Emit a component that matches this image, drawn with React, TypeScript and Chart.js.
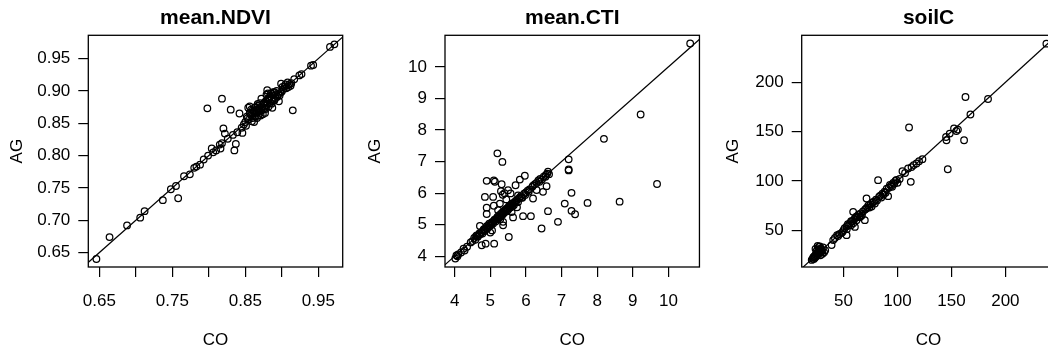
import React, { useEffect, useRef } from 'react';
import { Chart, registerables } from 'chart.js';

Chart.register(...registerables);

// ---------------- data ----------------
const panelTitles = ['mean.NDVI', 'mean.CTI', 'soilC'];
const xAxisTitle = 'CO';
const yAxisTitle = 'AG';

// [CO, AG]
const ndviPoints: [number, number][] = [
  [0.646, 0.640], [0.664, 0.674], [0.688, 0.692], [0.706, 0.704], [0.712, 0.714], [0.737, 0.731],
  [0.748, 0.748], [0.755, 0.753], [0.758, 0.734], [0.766, 0.768], [0.774, 0.771], [0.780, 0.781],
  [0.783, 0.783], [0.788, 0.786], [0.793, 0.794], [0.799, 0.800], [0.798, 0.873], [0.804, 0.811],
  [0.806, 0.805], [0.810, 0.808], [0.815, 0.817], [0.816, 0.811], [0.818, 0.819], [0.818, 0.888],
  [0.820, 0.842], [0.822, 0.834], [0.826, 0.826], [0.830, 0.871], [0.833, 0.832], [0.835, 0.808],
  [0.837, 0.818], [0.839, 0.836], [0.842, 0.865], [0.845, 0.843], [0.846, 0.835], [0.848, 0.848],
  [0.850, 0.852], [0.851, 0.846], [0.852, 0.860], [0.854, 0.874], [0.855, 0.856], [0.856, 0.876],
  [0.857, 0.866], [0.858, 0.862], [0.859, 0.853], [0.860, 0.870], [0.861, 0.865], [0.862, 0.852],
  [0.863, 0.874], [0.864, 0.860], [0.865, 0.870], [0.866, 0.866], [0.867, 0.877], [0.868, 0.862],
  [0.869, 0.872], [0.870, 0.868], [0.871, 0.862], [0.872, 0.888], [0.873, 0.876], [0.874, 0.871],
  [0.875, 0.880], [0.876, 0.873], [0.877, 0.866], [0.878, 0.884], [0.879, 0.878], [0.880, 0.901],
  [0.881, 0.886], [0.882, 0.876], [0.883, 0.890], [0.884, 0.881], [0.885, 0.896], [0.886, 0.887],
  [0.887, 0.874], [0.888, 0.893], [0.889, 0.885], [0.890, 0.898], [0.891, 0.889], [0.892, 0.895],
  [0.894, 0.891], [0.896, 0.884], [0.897, 0.893], [0.899, 0.911], [0.900, 0.899], [0.902, 0.903],
  [0.904, 0.907], [0.906, 0.904], [0.908, 0.913], [0.910, 0.910], [0.912, 0.908], [0.913, 0.912],
  [0.915, 0.870], [0.917, 0.918], [0.924, 0.924], [0.927, 0.926], [0.940, 0.939], [0.943, 0.940],
  [0.966, 0.968], [0.972, 0.972],
  [0.853, 0.858], [0.856, 0.866], [0.858, 0.871], [0.860, 0.858], [0.862, 0.868], [0.864, 0.875],
  [0.866, 0.858], [0.868, 0.870], [0.870, 0.875], [0.872, 0.870], [0.874, 0.864], [0.876, 0.882],
  [0.878, 0.872], [0.880, 0.880], [0.882, 0.888], [0.884, 0.892], [0.886, 0.880], [0.888, 0.898],
  [0.890, 0.886], [0.893, 0.900], [0.895, 0.895], [0.898, 0.897], [0.901, 0.906], [0.905, 0.910],
  [0.909, 0.906], [0.867, 0.880], [0.879, 0.894], [0.881, 0.896], [0.870, 0.881], [0.863, 0.866],
];

const ctiPoints: [number, number][] = [
  [4.02, 3.93], [4.05, 4.03], [4.08, 4.00], [4.10, 4.06], [4.18, 4.12], [4.28, 4.18], [4.25, 4.24],
  [4.35, 4.30], [4.45, 4.44], [4.50, 4.48], [4.55, 4.58], [4.58, 4.52], [4.62, 4.66], [4.65, 4.62],
  [4.68, 4.67], [4.72, 4.70], [4.75, 4.76], [4.78, 4.72], [4.80, 4.82], [4.82, 4.86], [4.85, 4.80],
  [4.88, 4.90], [4.90, 4.95], [4.92, 4.88], [4.95, 4.98], [4.97, 5.03], [5.00, 4.97], [5.02, 5.05],
  [5.05, 5.08], [5.08, 5.04], [5.10, 5.12], [5.12, 5.16], [5.15, 5.10], [5.18, 5.20], [5.20, 5.25],
  [5.22, 5.18], [5.25, 5.30], [5.28, 5.24], [5.30, 5.34], [5.33, 5.38], [5.35, 5.32], [5.38, 5.42],
  [5.40, 5.45], [5.42, 5.40], [5.45, 5.50], [5.48, 5.52], [5.50, 5.47], [5.52, 5.58], [5.55, 5.60],
  [5.58, 5.55], [5.60, 5.65], [5.63, 5.68], [5.66, 5.62], [5.70, 5.74], [5.74, 5.78], [5.78, 5.72],
  [5.82, 5.86], [5.86, 5.90], [5.90, 5.85], [5.95, 5.98], [6.00, 6.02], [6.05, 6.08], [6.10, 6.12],
  [6.18, 6.20], [6.25, 6.28], [6.30, 6.32], [6.35, 6.40], [6.40, 6.45], [6.45, 6.43], [6.50, 6.52],
  [6.56, 6.58], [6.60, 6.62], [6.62, 6.68], [6.65, 6.60],
  [4.60, 4.64], [4.70, 4.73], [4.84, 4.84], [4.93, 4.92], [5.03, 5.00], [5.13, 5.14], [5.23, 5.22],
  [5.31, 5.28], [5.37, 5.36], [5.43, 5.46], [5.47, 5.43], [5.53, 5.52], [5.57, 5.62], [5.62, 5.60],
  [5.68, 5.70], [5.72, 5.70], [5.80, 5.82], [5.88, 5.86], [5.98, 5.94], [6.08, 6.04], [6.20, 6.24],
  [6.38, 6.36], [6.55, 6.52],
  [5.20, 7.26], [5.34, 6.99], [5.97, 6.55], [5.83, 6.43], [4.90, 6.39], [5.13, 6.36], [5.10, 6.40],
  [5.32, 6.28], [5.71, 6.25], [4.85, 5.88], [5.08, 5.88], [5.30, 6.06], [5.50, 6.09], [5.57, 5.99],
  [5.78, 5.93], [4.90, 5.54], [4.90, 5.34], [5.27, 5.67], [5.22, 5.46], [4.71, 4.96], [5.28, 5.17],
  [5.35, 5.95], [5.45, 5.80], [5.10, 5.60], [5.40, 6.00],
  [5.36, 4.98], [5.36, 5.09], [4.76, 4.35], [4.87, 4.40], [5.11, 4.40], [5.52, 4.61], [5.64, 5.23],
  [5.92, 5.27], [6.14, 5.27], [6.20, 5.83], [6.44, 4.88], [6.62, 5.43], [6.90, 5.09], [7.09, 5.67],
  [7.28, 6.01], [7.20, 6.75], [7.20, 6.72], [7.20, 7.07], [7.28, 5.44], [7.38, 5.33], [6.48, 6.04],
  [6.58, 6.22], [7.73, 5.69], [8.19, 7.72], [8.63, 5.73], [9.22, 8.49], [9.68, 6.29], [10.61, 10.74],
  [5.05, 4.82], [5.00, 4.75], [5.75, 5.55], [6.30, 6.10], [5.60, 5.40],
];

const soilPoints: [number, number][] = [
  [20.5, 19.8], [21.5, 21.0], [22.0, 22.5], [22.5, 20.8], [23.0, 23.5], [23.5, 22.0], [24.0, 25.0],
  [24.5, 23.2], [25.0, 26.5], [25.5, 24.5], [26.0, 28.0], [26.5, 25.5], [27.0, 30.5], [27.5, 27.0],
  [28.0, 33.5], [28.5, 29.0], [29.0, 31.5], [29.5, 28.0], [30.0, 30.0], [31.0, 32.5], [32.0, 27.5],
  [33.0, 29.5], [26.0, 34.0], [27.0, 33.0], [24.0, 31.0], [25.0, 29.0], [30.5, 26.0], [28.5, 24.5],
  [38.9, 34.8], [40.4, 39.9], [42, 42], [44, 45], [46, 46], [48, 47], [50, 50], [51, 52], [52.8, 44.9],
  [53, 54], [55, 55], [56, 57], [57, 55], [58, 59], [58.9, 68.6], [60, 61], [60.5, 53.3], [61, 63],
  [62, 60], [63, 64], [64, 66], [65, 63], [66, 67], [67, 65], [68, 69], [69.7, 60.1], [70, 71],
  [71.3, 82.1], [72, 73], [73, 75], [75, 76], [76, 74], [78, 79], [79, 77], [80, 81], [81, 80],
  [82, 100.7], [83, 84], [84, 85], [86, 87], [87, 86], [88, 89], [89, 88], [90, 92], [91.3, 84.5],
  [92, 93], [93, 96], [95, 94], [97, 97], [98, 100], [100, 98], [102, 102], [104.6, 109.8],
  [107, 108], [109.8, 112.5], [110.7, 154.1], [112.3, 99], [113, 114], [115, 116], [117.6, 117.6],
  [120, 120], [123.1, 122], [145, 144.5], [145.4, 141.2], [146.6, 111.8], [148.4, 148],
  [152.4, 153.1], [154.6, 150.6], [156, 152], [161.7, 141.2], [163, 185.1], [167.6, 167.3],
  [183.9, 183.1], [238, 239.2],
  [45, 44], [49, 48], [54, 56], [59, 57], [62, 64], [66, 64], [71, 72], [74, 73], [77, 78],
  [85, 83], [94, 95], [96, 98], [99, 101], [53, 51], [57, 59],
];

// axis ranges [min, max]
const ndviXRange = [0.6349, 0.9834];
const ndviYRange = [0.6277, 0.986];
const ctiXRange = [3.73, 10.87];
const ctiYRange = [3.66, 11.0];
const soilXRange = [11.2, 246.4];
const soilYRange = [12.6, 247.7];

// ticks and tick labels
const ndviXTicks = [0.65, 0.7, 0.75, 0.8, 0.85, 0.9, 0.95];
const ndviXTickLabels = ['0.65', '', '0.75', '', '0.85', '', '0.95'];
const ndviYTicks = [0.65, 0.7, 0.75, 0.8, 0.85, 0.9, 0.95];
const ndviYTickLabels = ['0.65', '0.70', '0.75', '0.80', '0.85', '0.90', '0.95'];
const ctiXTicks = [4, 5, 6, 7, 8, 9, 10];
const ctiXTickLabels = ['4', '5', '6', '7', '8', '9', '10'];
const ctiYTicks = [4, 5, 6, 7, 8, 9, 10];
const ctiYTickLabels = ['4', '5', '6', '7', '8', '9', '10'];
const soilXTicks = [50, 100, 150, 200];
const soilXTickLabels = ['50', '100', '150', '200'];
const soilYTicks = [50, 100, 150, 200];
const soilYTickLabels = ['50', '100', '150', '200'];

// ---------------- layout / style ----------------
const FONT = '"Liberation Sans", Arial, Helvetica, sans-serif';
const H = 354;
const PLOT_TOP = 35.3;
const PLOT_BOTTOM = 267;

type Spec = {
  title: string;
  points: [number, number][];
  xRange: number[];
  yRange: number[];
  xTicks: number[];
  xLabels: string[];
  yTicks: number[];
  yLabels: string[];
  left: number;
  width: number;
  plotLeft: number;
  plotRight: number;
};

const specs: Spec[] = [
  {
    title: panelTitles[0], points: ndviPoints, xRange: ndviXRange, yRange: ndviYRange,
    xTicks: ndviXTicks, xLabels: ndviXTickLabels, yTicks: ndviYTicks, yLabels: ndviYTickLabels,
    left: 0, width: 352, plotLeft: 88.3, plotRight: 342.7,
  },
  {
    title: panelTitles[1], points: ctiPoints, xRange: ctiXRange, yRange: ctiYRange,
    xTicks: ctiXTicks, xLabels: ctiXTickLabels, yTicks: ctiYTicks, yLabels: ctiYTickLabels,
    left: 358, width: 346, plotLeft: 445, plotRight: 699.5,
  },
  {
    title: panelTitles[2], points: soilPoints, xRange: soilXRange, yRange: soilYRange,
    xTicks: soilXTicks, xLabels: soilXTickLabels, yTicks: soilYTicks, yLabels: soilYTickLabels,
    left: 716, width: 344, plotLeft: 801.7, plotRight: 1056.3,
  },
];

const boxPlugin = {
  id: 'rbox',
  afterDatasetsDraw(chart: any) {
    const { ctx, chartArea } = chart;
    const { left, top, right, bottom } = chartArea;
    ctx.save();
    ctx.strokeStyle = '#000';
    ctx.lineWidth = 1.3;
    ctx.strokeRect(left, top, right - left, bottom - top);
    ctx.restore();
  },
};

function zeroPad(s: any) {
  s.paddingLeft = 0;
  s.paddingRight = 0;
  s.paddingTop = 0;
  s.paddingBottom = 0;
}

function Panel({ spec }: { spec: Spec }) {
  const ref = useRef<HTMLCanvasElement>(null);
  useEffect(() => {
    const lo = Math.min(spec.xRange[0], spec.yRange[0]);
    const hi = Math.max(spec.xRange[1], spec.yRange[1]);
    const yAxisWidth = spec.plotLeft - spec.left;
    const rightPad = spec.left + spec.width - spec.plotRight;
    const chart = new Chart(ref.current as HTMLCanvasElement, {
      type: 'scatter',
      data: {
        datasets: [
          {
            type: 'line',
            data: [{ x: lo, y: lo }, { x: hi, y: hi }],
            borderColor: '#000',
            borderWidth: 1.2,
            pointRadius: 0,
            showLine: true,
            fill: false,
            clip: 0,
          } as any,
          {
            data: spec.points.map(([x, y]) => ({ x, y })),
            pointRadius: 3.3,
            pointBorderWidth: 1.25,
            pointBorderColor: '#000',
            pointBackgroundColor: 'rgba(0,0,0,0)',
            pointHoverRadius: 3.3,
          },
        ],
      },
      options: {
        responsive: false,
        animation: false,
        events: [],
        layout: { padding: { left: 0, top: 0, right: rightPad, bottom: 0 } },
        plugins: {
          legend: { display: false },
          tooltip: { enabled: false },
          title: {
            display: true,
            text: spec.title,
            fullSize: false,
            color: '#000',
            font: { family: FONT, size: 21, weight: 'bold', lineHeight: 1.2 },
            padding: { top: 5.7, bottom: PLOT_TOP - 5.7 - 25.2 },
          },
        },
        scales: {
          x: {
            type: 'linear',
            position: 'bottom',
            min: spec.xRange[0],
            max: spec.xRange[1],
            afterBuildTicks: (s: any) => {
              s.ticks = spec.xTicks.map((v) => ({ value: v }));
            },
            afterFit: (s: any) => {
              s.height = H - PLOT_BOTTOM;
              zeroPad(s);
            },
            ticks: {
              autoSkip: false,
              maxRotation: 0,
              minRotation: 0,
              padding: 14.5,
              color: '#000',
              font: { family: FONT, size: 17 },
              callback: (_v: any, i: number) => spec.xLabels[i],
            },
            grid: {
              display: true,
              drawOnChartArea: false,
              drawTicks: true,
              tickLength: 10,
              color: '#000',
              lineWidth: 1.2,
            },
            border: { display: false },
            title: {
              display: true,
              text: xAxisTitle,
              color: '#000',
              font: { family: FONT, size: 17, lineHeight: 1.2 },
              padding: { top: 0, bottom: 3.3 },
            },
          },
          y: {
            type: 'linear',
            position: 'left',
            min: spec.yRange[0],
            max: spec.yRange[1],
            afterBuildTicks: (s: any) => {
              s.ticks = spec.yTicks.map((v) => ({ value: v }));
            },
            afterFit: (s: any) => {
              s.width = yAxisWidth;
              zeroPad(s);
            },
            ticks: {
              autoSkip: false,
              padding: 8,
              color: '#000',
              font: { family: FONT, size: 17 },
              callback: (_v: any, i: number) => spec.yLabels[i],
            },
            grid: {
              display: true,
              drawOnChartArea: false,
              drawTicks: true,
              tickLength: 10,
              color: '#000',
              lineWidth: 1.2,
            },
            border: { display: false },
            title: {
              display: true,
              text: yAxisTitle,
              color: '#000',
              font: { family: FONT, size: 17, lineHeight: 1.2 },
              padding: { top: 6.8, bottom: 0 },
            },
          },
        },
      } as any,
      plugins: [boxPlugin],
    });
    return () => chart.destroy();
  }, [spec]);
  return (
    <canvas
      ref={ref}
      width={spec.width}
      height={H}
      style={{ position: 'absolute', left: spec.left, top: 0, width: spec.width, height: H, display: 'block' }}
    />
  );
}

export default function App() {
  return (
    <div
      style={{
        position: 'fixed',
        left: 0,
        top: 0,
        width: 1048,
        height: H,
        overflow: 'hidden',
        background: '#fff',
      }}
    >
      {specs.map((s) => (
        <Panel key={s.title} spec={s} />
      ))}
    </div>
  );
}
